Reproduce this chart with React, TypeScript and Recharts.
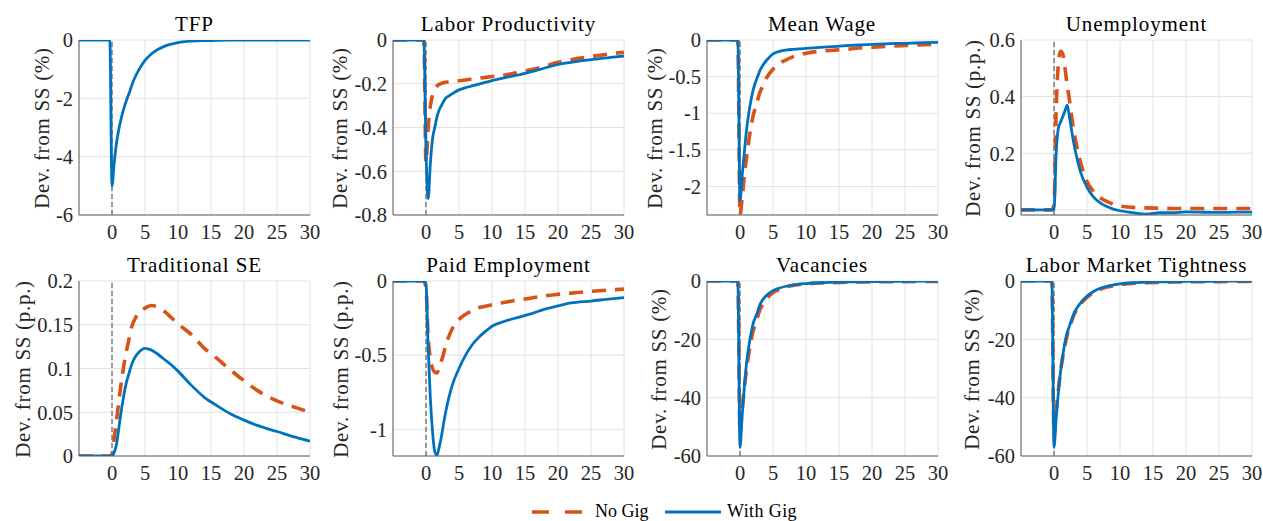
import { CartesianGrid, Line, LineChart, ReferenceLine, XAxis, YAxis } from 'recharts'

// quarters after the shock
const periods = [-5, -0.33, 0, 0.33, 0.67, 1, 1.33, 1.67, 2, 2.33, 2.67, 3, 3.5, 4, 5, 6, 7, 8, 9, 10, 12, 14, 16, 18, 20, 22, 25, 28, 30]
const xTicks = [0, 5, 10, 15, 20, 25, 30]

const tfpWithGig = [0, 0, -5, -4.2, -3.55, -3.1, -2.75, -2.45, -2.2, -1.98, -1.78, -1.55, -1.27, -1.05, -0.7, -0.47, -0.32, -0.21, -0.14, -0.09, -0.04, -0.02, -0.01, -0.005, 0, 0, 0, 0, 0]

const lpNoGig = [0, 0, -0.56, -0.4, -0.3, -0.25, -0.225, -0.21, -0.203, -0.198, -0.195, -0.193, -0.19, -0.188, -0.186, -0.183, -0.178, -0.175, -0.171, -0.167, -0.16, -0.148, -0.135, -0.12, -0.102, -0.09, -0.076, -0.063, -0.056]
const lpWithGig = [0, 0, -0.5, -0.725, -0.56, -0.45, -0.4, -0.35, -0.32, -0.3, -0.28, -0.265, -0.255, -0.245, -0.228, -0.218, -0.21, -0.202, -0.194, -0.186, -0.172, -0.16, -0.145, -0.128, -0.112, -0.102, -0.09, -0.079, -0.073]

const wageNoGig = [0, 0, -2.39, -2.15, -1.85, -1.6, -1.38, -1.18, -1.03, -0.92, -0.82, -0.72, -0.62, -0.52, -0.4, -0.32, -0.27, -0.23, -0.2, -0.18, -0.155, -0.14, -0.128, -0.11, -0.098, -0.087, -0.075, -0.065, -0.058]
const wageWithGig = [0, 0, -2.2, -1.85, -1.52, -1.22, -1.0, -0.82, -0.68, -0.58, -0.5, -0.42, -0.34, -0.28, -0.19, -0.155, -0.138, -0.128, -0.12, -0.115, -0.102, -0.09, -0.078, -0.068, -0.06, -0.052, -0.045, -0.037, -0.032]

const unempNoGig = [0, 0, 0.02, 0.35, 0.52, 0.56, 0.55, 0.5, 0.44, 0.39, 0.33, 0.28, 0.22, 0.17, 0.1, 0.065, 0.043, 0.03, 0.02, 0.014, 0.009, 0.007, 0.006, 0.005, 0.005, 0.005, 0.005, 0.005, 0.005]
const unempWithGig = [0, 0, 0, 0.2, 0.29, 0.31, 0.33, 0.35, 0.37, 0.33, 0.28, 0.235, 0.18, 0.135, 0.08, 0.045, 0.025, 0.012, 0.003, -0.003, -0.01, -0.015, -0.01, -0.01, -0.007, -0.008, -0.009, -0.008, -0.008]

const seNoGig = [0, 0, 0.002, 0.02, 0.04, 0.06, 0.08, 0.097, 0.113, 0.125, 0.137, 0.148, 0.157, 0.163, 0.169, 0.172, 0.17, 0.165, 0.158, 0.151, 0.139, 0.123, 0.111, 0.098, 0.086, 0.075, 0.063, 0.055, 0.05]
const seWithGig = [0, 0, 0, 0.004, 0.013, 0.03, 0.048, 0.064, 0.078, 0.088, 0.097, 0.105, 0.113, 0.118, 0.123, 0.121, 0.116, 0.11, 0.104, 0.097, 0.081, 0.067, 0.057, 0.048, 0.041, 0.035, 0.028, 0.021, 0.017]

const empNoGig = [0, 0, -0.05, -0.38, -0.53, -0.59, -0.615, -0.62, -0.58, -0.54, -0.49, -0.43, -0.37, -0.32, -0.26, -0.225, -0.2, -0.18, -0.17, -0.16, -0.143, -0.128, -0.115, -0.1, -0.09, -0.082, -0.07, -0.06, -0.055]
const empWithGig = [0, 0, -0.02, -0.45, -0.8, -1.02, -1.15, -1.175, -1.12, -1.05, -0.96, -0.88, -0.78, -0.7, -0.59, -0.5, -0.43, -0.38, -0.34, -0.305, -0.27, -0.245, -0.22, -0.19, -0.168, -0.148, -0.135, -0.12, -0.112]

const vacNoGig = [0, 0, -52, -44, -36.5, -30, -25, -20.5, -17, -14.8, -12.3, -10, -7.8, -6.2, -4, -2.8, -2, -1.5, -1.2, -1, -0.7, -0.55, -0.45, -0.35, -0.3, -0.25, -0.2, -0.17, -0.15]
const vacWithGig = [0, 0, -57, -46, -36, -28, -22.5, -18, -14.5, -12.5, -10.5, -8.2, -6.3, -5, -3.3, -2.4, -1.8, -1.4, -1.1, -0.9, -0.6, -0.45, -0.35, -0.25, -0.2, -0.15, -0.1, -0.07, -0.05]

const tightNoGig = [0, 0, -53, -45, -37, -31, -26, -22, -18.5, -16, -13.8, -11.8, -9.6, -8, -5.6, -4, -2.9, -2.1, -1.6, -1.2, -0.8, -0.6, -0.45, -0.35, -0.3, -0.25, -0.2, -0.17, -0.15]
const tightWithGig = [0, 0, -57, -47, -38, -31, -25.5, -21, -17.8, -15.5, -13.3, -11.2, -9.2, -7.6, -5.2, -3.6, -2.5, -1.8, -1.35, -1.0, -0.6, -0.4, -0.3, -0.2, -0.15, -0.1, -0.08, -0.06, -0.05]

const BLUE = '#0072BD'
const ORANGE = '#D95319'
const BOX = '#5e5e5e'
const FONT = '"Liberation Serif"'

const PW = 231
const PH = 175
const YW = 60
const MT = 14
const MR = 18
const XH = 30

interface PanelProps {
  title: string
  yLabel: string
  noGig: number[] | null
  withGig: number[]
  domain: [number, number]
  ticks: number[]
  left: number
  top: number
  labelDx: number
}

function Panel({ title, yLabel, noGig, withGig, domain, ticks, left, top, labelDx }: PanelProps) {
  const data = periods.map((t, i) => ({ t, noGig: noGig ? noGig[i] : null, withGig: withGig[i] }))
  return (
    <>
      <div style={{ position: 'absolute', left: left - 20, top: top - 26, width: PW + 40, textAlign: 'center', fontFamily: FONT, fontSize: 21, lineHeight: '21px', letterSpacing: 0.9, color: '#000' }}>
        {title}
      </div>
      <div
        style={{
          position: 'absolute', left: left - labelDx, top: top + PH / 2,
          transform: 'translate(-50%, -50%) rotate(-90deg)', whiteSpace: 'nowrap',
          fontFamily: FONT, fontSize: 21, lineHeight: '21px', letterSpacing: 0.7, color: '#262626',
        }}
      >
        {yLabel}
      </div>
      <div style={{ position: 'absolute', left: left - YW, top: top - MT }}>
        <LineChart width={YW + PW + MR} height={MT + PH + XH} data={data} margin={{ top: MT, right: MR, bottom: 0, left: 0 }}>
          <CartesianGrid stroke="#e2e2e2" />
          <XAxis
            dataKey="t" type="number" domain={[-5, 30]} ticks={xTicks} interval={0} allowDataOverflow
            height={XH} tickLine={false} tickSize={0} tickMargin={9}
            axisLine={{ stroke: BOX }} tick={{ fill: '#262626', fontSize: 20.5, fontFamily: FONT }}
          />
          <XAxis xAxisId="top" orientation="top" dataKey="t" type="number" domain={[-5, 30]} height={0} tick={false} tickLine={false} axisLine={{ stroke: BOX }} />
          <YAxis
            type="number" domain={domain} ticks={ticks} interval={0} allowDataOverflow
            width={YW} tickLine={false} tickSize={0} tickMargin={6}
            axisLine={{ stroke: BOX }} tick={{ fill: '#262626', fontSize: 20.5, fontFamily: FONT }}
            tickFormatter={(v: number) => String(v)}
          />
          <YAxis yAxisId="right" orientation="right" type="number" domain={domain} width={0} tick={false} tickLine={false} axisLine={{ stroke: BOX }} />
          <ReferenceLine x={0} stroke="#404040" strokeWidth={1} strokeDasharray="5 3" />
          {noGig && (
            <Line type="monotone" dataKey="noGig" stroke={ORANGE} strokeWidth={3.6} strokeDasharray="14 9" dot={false} isAnimationActive={false} />
          )}
          <Line type="monotone" dataKey="withGig" stroke={BLUE} strokeWidth={2.8} dot={false} isAnimationActive={false} />
        </LineChart>
      </div>
    </>
  )
}

const colLeft = [79, 393, 706.5, 1021]
const rowTop = [40, 281]

export default function App() {
  return (
    <div style={{ position: 'absolute', left: 0, top: 0, width: 1263, height: 521, overflow: 'hidden', background: '#fff', fontFamily: FONT }}>
      <Panel title="TFP" yLabel="Dev. from SS (%)" noGig={null} withGig={tfpWithGig} domain={[-6, 0]} ticks={[-6, -4, -2, 0]} left={colLeft[0]} top={rowTop[0]} labelDx={37} />
      <Panel title="Labor Productivity" yLabel="Dev. from SS (%)" noGig={lpNoGig} withGig={lpWithGig} domain={[-0.8, 0]} ticks={[-0.8, -0.6, -0.4, -0.2, 0]} left={colLeft[1]} top={rowTop[0]} labelDx={53} />
      <Panel title="Mean Wage" yLabel="Dev. from SS (%)" noGig={wageNoGig} withGig={wageWithGig} domain={[-2.39, 0]} ticks={[-2, -1.5, -1, -0.5, 0]} left={colLeft[2]} top={rowTop[0]} labelDx={52} />
      <Panel title="Unemployment" yLabel="Dev. from SS (p.p.)" noGig={unempNoGig} withGig={unempWithGig} domain={[-0.018, 0.6]} ticks={[0, 0.2, 0.4, 0.6]} left={colLeft[3]} top={rowTop[0]} labelDx={48} />
      <Panel title="Traditional SE" yLabel="Dev. from SS (p.p.)" noGig={seNoGig} withGig={seWithGig} domain={[0, 0.2]} ticks={[0, 0.05, 0.1, 0.15, 0.2]} left={colLeft[0]} top={rowTop[1]} labelDx={56.5} />
      <Panel title="Paid Employment" yLabel="Dev. from SS (p.p.)" noGig={empNoGig} withGig={empWithGig} domain={[-1.18, 0]} ticks={[-1, -0.5, 0]} left={colLeft[1]} top={rowTop[1]} labelDx={52} />
      <Panel title="Vacancies" yLabel="Dev. from SS (%)" noGig={vacNoGig} withGig={vacWithGig} domain={[-60, 0]} ticks={[-60, -40, -20, 0]} left={colLeft[2]} top={rowTop[1]} labelDx={48} />
      <Panel title="Labor Market Tightness" yLabel="Dev. from SS (%)" noGig={tightNoGig} withGig={tightWithGig} domain={[-60, 0]} ticks={[-60, -40, -20, 0]} left={colLeft[3]} top={rowTop[1]} labelDx={49} />

      {/* legend */}
      <svg width={1263} height={521} style={{ position: 'absolute', left: 0, top: 0, pointerEvents: 'none' }}>
        <line x1={532} y1={512} x2={582} y2={512} stroke={ORANGE} strokeWidth={3.6} strokeDasharray="17 16" />
        <text x={595} y={516.5} fontSize={18} fill="#000" style={{ fontFamily: FONT }}>No Gig</text>
        <line x1={665} y1={512} x2={721} y2={512} stroke={BLUE} strokeWidth={2.8} />
        <text x={727} y={516.5} fontSize={18} letterSpacing={0.4} fill="#000" style={{ fontFamily: FONT }}>With Gig</text>
      </svg>
    </div>
  )
}
